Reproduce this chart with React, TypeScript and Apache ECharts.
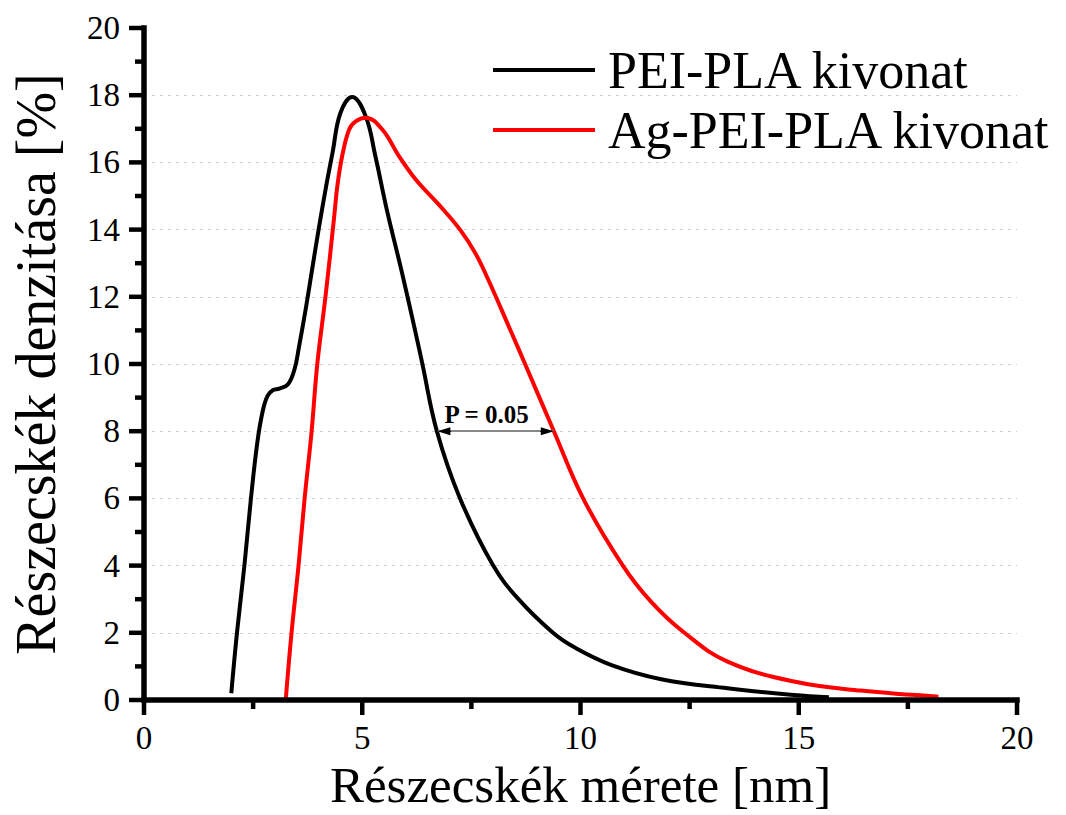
import React, { useEffect, useRef } from "react";
import * as echarts from "echarts";

const seriesNames = ["PEI-PLA kivonat", "Ag-PEI-PLA kivonat"];

const peiX = [2.0, 2.13, 2.3, 2.45, 2.6, 2.72, 2.83, 2.95, 3.1, 3.3, 3.45, 3.55, 3.7, 3.85, 4.0, 4.16, 4.32, 4.5, 4.77, 5.08, 5.3, 5.57, 5.91, 6.22, 6.37, 6.71, 7.24, 8.0, 8.58, 9.37, 9.87, 10.71, 11.85, 13.37, 14.89, 15.69];
const peiY = [0.2, 2, 4, 6, 7.7, 8.6, 9.05, 9.22, 9.27, 9.4, 9.85, 10.5, 11.6, 12.8, 14.0, 15.2, 16.29, 17.47, 17.95, 17.37, 16.19, 14.55, 12.72, 10.94, 10.05, 8, 6, 4, 3, 2, 1.56, 1.04, 0.62, 0.35, 0.15, 0.08];

const agX = [3.25, 3.38, 3.54, 3.68, 3.84, 3.97, 4.16, 4.35, 4.43, 4.54, 4.7, 4.85, 5.08, 5.46, 5.84, 6.22, 6.75, 7.24, 7.59, 7.89, 8.35, 8.73, 9.39, 10.06, 10.97, 11.62, 12.38, 13.37, 14.89, 16.42, 18.2];
const agY = [0.05, 2, 4, 6, 8, 10, 12.03, 14.3, 15.3, 16.19, 16.98, 17.22, 17.33, 16.98, 16.19, 15.5, 14.75, 14.0, 13.3, 12.5, 11.14, 10, 8, 6, 4, 2.92, 2, 1.14, 0.55, 0.28, 0.1];

const xMajorTicks = [0, 5, 10, 15, 20];
const xMinorTicks = [2.5, 7.5, 12.5, 17.5];
const yMajorTicks = [0, 2, 4, 6, 8, 10, 12, 14, 16, 18, 20];
const yMinorTicks = [1, 3, 5, 7, 9, 11, 13, 15, 17, 19];

const annotationText = "P = 0.05";
const annotationY = 8;
const annotationX = [6.73, 9.38];

const FONT = "'Liberation Serif', 'Times New Roman', serif";

export default function App() {
  const ref = useRef<HTMLDivElement>(null);
  useEffect(() => {
    if (!ref.current) return;
    const chart = echarts.init(ref.current, undefined, { renderer: "svg" });
    const pei = peiX.map((x, i) => [x, peiY[i]]);
    const ag = agX.map((x, i) => [x, agY[i]]);
    chart.setOption({
      animation: false,
      grid: { left: 141, right: 49, top: 28, bottom: 114, containLabel: false },
      legend: {
        data: seriesNames,
        orient: "vertical",
        left: 493,
        top: 44,
        icon: "rect",
        itemWidth: 102,
        itemHeight: 4,
        itemGap: 8,
        padding: 0,
        textStyle: { fontSize: 52, fontFamily: FONT, color: "#000", padding: [0, 0, 0, 8] },
      },
      xAxis: {
        type: "value",
        min: 0,
        max: 20,
        interval: 5,
        axisLine: { show: false },
        axisTick: { show: false },
        minorTick: { show: false },
        axisLabel: { fontSize: 33, fontFamily: FONT, color: "#000", margin: 21 },
        splitLine: { show: false },
        name: "Részecskék mérete [nm]",
        nameLocation: "middle",
        nameGap: 59,
        nameTextStyle: { fontSize: 51, fontFamily: FONT, color: "#000" },
      },
      yAxis: {
        type: "value",
        min: 0,
        max: 20,
        interval: 2,
        axisLine: { show: false },
        axisTick: { show: false },
        minorTick: { show: false },
        axisLabel: { fontSize: 33, fontFamily: FONT, color: "#000", margin: 24 },
        splitLine: {
          show: true,
          showMinLine: false,
          showMaxLine: false,
          lineStyle: { type: [3, 5], color: "#cccccc", width: 1 },
        },
        name: "Részecskék denzitása [%]",
        nameLocation: "middle",
        nameGap: 80,
        nameTextStyle: { fontSize: 56, fontFamily: FONT, color: "#000" },
      },
      series: [
        {
          name: seriesNames[0],
          type: "line",
          data: pei,
          smooth: 0.4,
          symbol: "none",
          lineStyle: { color: "#000", width: 4 },
          itemStyle: { color: "#000" },
          markLine: {
            silent: true,
            animation: false,
            data: [
              [
                {
                  coord: [annotationX[0], annotationY],
                  symbol: "none",
                  lineStyle: { color: "#888", width: 2, type: "solid" },
                  label: {
                    show: true,
                    position: "middle",
                    formatter: annotationText,
                    fontFamily: FONT,
                    fontWeight: "bold",
                    fontSize: 25,
                    color: "#000",
                    distance: 4,
                    offset: [-9, 0],
                  },
                },
                { coord: [annotationX[1], annotationY], symbol: "none" },
              ],
              [
                { coord: [annotationX[0] + 0.3, annotationY], symbol: "none", lineStyle: { color: "#000", width: 1, type: "solid" }, label: { show: false } },
                { coord: [annotationX[0] + 0.14, annotationY], symbol: "triangle", symbolSize: [8, 13] },
              ],
              [
                { coord: [annotationX[1] - 0.3, annotationY], symbol: "none", lineStyle: { color: "#000", width: 1, type: "solid" }, label: { show: false } },
                { coord: [annotationX[1] - 0.14, annotationY], symbol: "triangle", symbolSize: [8, 13] },
              ],
            ],
          },
        },
        {
          name: seriesNames[1],
          type: "line",
          data: ag,
          smooth: 0.4,
          symbol: "none",
          lineStyle: { color: "#ff0000", width: 4 },
          itemStyle: { color: "#ff0000" },
        },
      ],
    });

    // Axis lines and ticks as filled rectangles, positioned through the chart's own scales
    const px = (x: number, y: number) => chart.convertToPixel({ gridIndex: 0 }, [x, y]) as number[];
    const o = px(0, 0);
    const xEnd = px(20, 0);
    const yEnd = px(0, 20);
    const AX = 5.5;
    const TW = 4.5;
    const fill = () => ({ fill: "#000", stroke: "none" });
    const els: any[] = [
      { type: "rect", silent: true, z: 10, shape: { x: o[0] - AX / 2, y: o[1] - AX / 2, width: xEnd[0] - o[0] + AX, height: AX }, style: fill() },
      { type: "rect", silent: true, z: 10, shape: { x: o[0] - AX / 2, y: yEnd[1] - AX / 2, width: AX, height: o[1] - yEnd[1] + AX }, style: fill() },
    ];
    xMajorTicks.forEach((v) => {
      const p = px(v, 0);
      els.push({ type: "rect", silent: true, z: 10, shape: { x: p[0] - TW / 2, y: o[1], width: TW, height: 15 }, style: fill() });
    });
    xMinorTicks.forEach((v) => {
      const p = px(v, 0);
      els.push({ type: "rect", silent: true, z: 10, shape: { x: p[0] - TW / 2, y: o[1], width: TW, height: 9 }, style: fill() });
    });
    yMajorTicks.forEach((v) => {
      const p = px(0, v);
      els.push({ type: "rect", silent: true, z: 10, shape: { x: o[0] - 15, y: p[1] - TW / 2, width: 15, height: TW }, style: fill() });
    });
    yMinorTicks.forEach((v) => {
      const p = px(0, v);
      els.push({ type: "rect", silent: true, z: 10, shape: { x: o[0] - 9, y: p[1] - TW / 2, width: 9, height: TW }, style: fill() });
    });
    chart.setOption({ graphic: els });

    return () => chart.dispose();
  }, []);
  return <div ref={ref} style={{ position: "fixed", left: 0, top: 0, width: 1066, height: 815, background: "#fff" }} />;
}
